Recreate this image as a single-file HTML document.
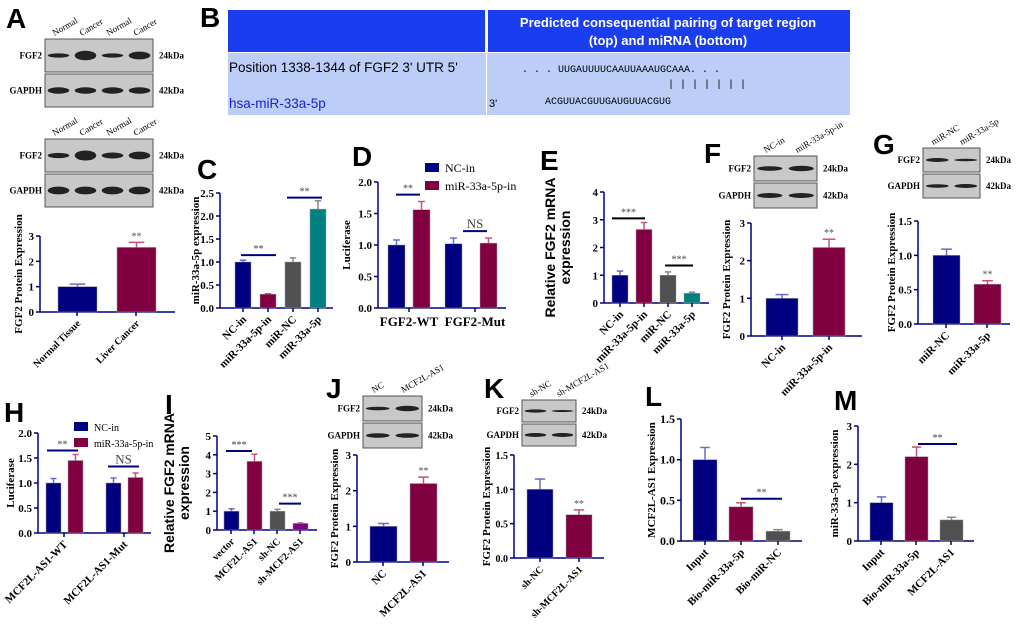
<!DOCTYPE html>
<html><head><meta charset="utf-8"><style>
body{margin:0;background:#fff}
svg{display:block;font-family:"Liberation Serif",serif}
.b{font-family:"Liberation Sans",sans-serif;font-weight:bold}
</style></head><body>
<svg id="fig" width="1020" height="624" viewBox="0 0 1020 624">
<g class="b" font-size="28">
<text x="6" y="28">A</text><text x="200" y="27">B</text><text x="197" y="179">C</text><text x="352" y="166">D</text>
<text x="540" y="170">E</text><text x="704" y="163">F</text><text x="873" y="154">G</text><text x="4" y="422">H</text>
<text x="165" y="414">I</text><text x="326" y="398">J</text><text x="484" y="398">K</text><text x="645" y="406">L</text><text x="834" y="410">M</text>
</g>
<g>
<rect x="228" y="10" width="257" height="42" fill="#1a3df0"/><rect x="488" y="10" width="362" height="42" fill="#1a3df0"/>
<rect x="228" y="53" width="622" height="62" fill="#bccdf8"/><line x1="486.5" y1="10" x2="486.5" y2="115" stroke="#fff"/>
<text x="668" y="27" fill="#fff" font-size="13" text-anchor="middle" class="b">Predicted consequential pairing of target region</text>
<text x="668" y="45" fill="#fff" font-size="13" text-anchor="middle" class="b">(top) and miRNA (bottom)</text>
<text x="229" y="72" font-size="13.5" font-family="Liberation Sans">Position 1338-1344 of FGF2 3' UTR 5'</text>
<text x="229" y="108" font-size="13.5" fill="#2020d0" font-family="Liberation Sans">hsa-miR-33a-5p</text>
<text x="489" y="107" font-size="11" font-family="Liberation Sans">3'</text>
<text x="522" y="72" font-size="10" font-family="Liberation Mono">. . . UUGAUUUUCAAUUAAAUGCAAA. . .</text>
<text x="668" y="87" font-size="10" font-family="Liberation Mono">| | | | | | |</text>
<text x="545" y="104" font-size="10" font-family="Liberation Mono">ACGUUACGUUGAUGUUACGUG</text>
</g>
<g id="blots"></g>
<g id="charts"></g>
</svg>
<script>
const NAVY="#000080",MAR="#800040",GR="#505050",TE="#008080",PU="#800080";
const aCats=["Normal Tissue","Liver Cancer"], aVals=[1.0,2.55], aErrs=[0.1,0.2];
const cCats=["NC-in","miR-33a-5p-in","miR-NC","miR-33a-5p"], cVals=[1.0,0.3,1.0,2.15], cErrs=[0.04,0.01,0.09,0.18];
const dCats=["FGF2-WT","FGF2-Mut"], dNC=[1.0,1.02], dMiR=[1.56,1.03], dNCerr=[0.08,0.09], dMiRerr=[0.13,0.08];
const eCats=["NC-in","miR-33a-5p-in","miR-NC","miR-33a-5p"], eVals=[1.0,2.65,1.0,0.35], eErrs=[0.15,0.25,0.12,0.04];
const fCats=["NC-in","miR-33a-5p-in"], fVals=[1.0,2.35], fErrs=[0.1,0.22];
const gCats=["miR-NC","miR-33a-5p"], gVals=[1.0,0.58], gErrs=[0.09,0.05];
const hCats=["MCF2L-AS1-WT","MCF2L-AS1-Mut"], hNC=[1.0,1.0], hMiR=[1.45,1.11], hNCerr=[0.09,0.1], hMiRerr=[0.12,0.09];
const iCats=["vector","MCF2L-AS1","sh-NC","sh-MCF2-AS1"], iVals=[1.0,3.65,1.0,0.35], iErrs=[0.13,0.38,0.1,0.03];
const jCats=["NC","MCF2L-AS1"], jVals=[1.0,2.2], jErrs=[0.08,0.18];
const kCats=["sh-NC","sh-MCF2L-AS1"], kVals=[1.0,0.63], kErrs=[0.15,0.07];
const lCats=["Input","Bio-miR-33a-5p","Bio-miR-NC"], lVals=[1.0,0.42,0.12], lErrs=[0.15,0.05,0.02];
const mCats=["Input","Bio-miR-33a-5p","MCF2L-AS1"], mVals=[1.0,2.2,0.55], mErrs=[0.15,0.25,0.07];
const NS="http://www.w3.org/2000/svg";
function el(p,t,a){const e=document.createElementNS(NS,t);for(const k in a)e.setAttribute(k,a[k]);p.appendChild(e);return e;}
const root=document.getElementById('charts');
function chart(c){
 const g=el(root,'g',{});
 
 
 const y=v=>c.y0-(v/c.max)*(c.y0-c.yt);
 const bw=c.bw;
 c.ticks.forEach(t=>{
  el(g,'line',{x1:c.ax-4,x2:c.ax,y1:y(t),y2:y(t),stroke:NAVY,'stroke-width':1.5});
  const tx=el(g,'text',{x:c.ax-6,y:y(t)+4,'font-size':c.fs||11,'font-weight':'bold','text-anchor':'end'});tx.textContent=c.tf?c.tf(t):t;
 });
 el(g,'line',{x1:c.ax,x2:c.ax,y1:c.yt,y2:c.y0,stroke:NAVY,'stroke-width':1.5});
 el(g,'line',{x1:c.ax,x2:c.xe,y1:c.y0,y2:c.y0,stroke:NAVY,'stroke-width':1.5});
 c.vals.forEach((v,i)=>{
  const x=c.xs[i];
  const r=el(g,'rect',{x:x,y:y(v),width:bw,height:c.y0-y(v),fill:c.cols[i],stroke:'#99a',"stroke-width":0.5});
  
  
  const ye=y(v+c.errs[i]), ec=c.cols[i]==NAVY?'#6a6ac8':c.cols[i]==MAR?'#c85080':'#888';
  el(g,'line',{x1:x+bw/2,x2:x+bw/2,y1:y(v),y2:ye,stroke:ec,'stroke-width':1.5});
  el(g,'line',{x1:x+bw/2-bw/5,x2:x+bw/2+bw/5,y1:ye,y2:ye,stroke:ec,'stroke-width':1.5});
 });
 c.labs.forEach((l,i)=>{
  const x=c.lx[i];
  el(g,'line',{x1:x,x2:x,y1:c.y0,y2:c.y0+4,stroke:NAVY,'stroke-width':1.5});
  const t=el(g,'text',{x:x+4,y:c.y0+12,'font-size':c.lfs||11,'font-weight':'bold','text-anchor':'end',transform:`rotate(${c.rot===0?0:-45} ${x+4} ${c.y0+12})`});
  if(c.rot===0){t.setAttribute('text-anchor','middle');t.setAttribute('x',x);t.setAttribute('y',c.y0+18);t.setAttribute('font-size',13);}
  t.textContent=l;
 });
 const yt=el(g,'text',{x:0,y:0,'font-size':c.yfs||11,'font-weight':'bold','text-anchor':'middle',transform:`translate(${c.ytx},${(c.y0+c.yt)/2}) rotate(-90)`});
 if(c.ysans){yt.setAttribute('font-family','Liberation Sans');}
 c.ytitle.forEach((s,k)=>{const ts=el(yt,'tspan',{x:0,dy:k?15:0});ts.textContent=s;});
 (c.sig||[]).forEach(s=>{
  el(g,'line',{x1:s[0],x2:s[1],y1:y(s[2]),y2:y(s[2]),stroke:s[4]?'#000':NAVY,'stroke-width':2});
  const t=el(g,'text',{x:(s[0]+s[1])/2,y:y(s[2])-3,'font-size':s[3]=='NS'?13:10,'text-anchor':'middle',fill:'#444'});t.textContent=s[3];
 });
 (c.stars||[]).forEach(s=>{const t=el(g,'text',{x:c.xs[s]+bw/2,y:y(c.vals[s]+c.errs[s])-3,'font-size':10,'text-anchor':'middle',fill:'#555'});t.textContent='**';});
 return g;
}
chart({name:'chart-a',vals:aVals,errs:aErrs,cols:[NAVY,MAR],xs:[58,117],bw:39,ax:40,xe:175,y0:312,yt:236,max:3,ticks:[0,1,2,3],labs:aCats,lx:[77,136],ytitle:['FGF2 Protein Expression'],ytx:22,stars:[1],lfs:10});
chart({name:'chart-c',vals:cVals,errs:cErrs,cols:[NAVY,MAR,GR,TE],xs:[235,260,285,310],bw:16,ax:220,xe:333,y0:308,yt:193,max:2.5,ticks:[0,0.5,1,1.5,2,2.5],tf:t=>t.toFixed(1),labs:cCats,lx:[243,268,293,318],ytitle:['miR-33a-5p expression'],ytx:199,sig:[[241,276,1.15,'**'],[287,322,2.4,'**']]});
chart({name:'chart-d',vals:[dNC[0],dMiR[0],dNC[1],dMiR[1]],errs:[dNCerr[0],dMiRerr[0],dNCerr[1],dMiRerr[1]],cols:[NAVY,MAR,NAVY,MAR],xs:[388,413,445,480],bw:17,ax:378,xe:506,y0:308,yt:182,max:2,ticks:[0,0.5,1,1.5,2],tf:t=>t.toFixed(1),labs:dCats,lx:[409,475],rot:0,ytitle:['Luciferase'],ytx:350,sig:[[396,420,1.8,'**'],[463,487,1.22,'NS']]});
chart({name:'chart-e',vals:eVals,errs:eErrs,cols:[NAVY,MAR,GR,TE],xs:[612,636,660,684],bw:16,ax:604,xe:709,y0:303,yt:192,max:4,ticks:[0,1,2,3,4],labs:eCats,lx:[620,644,668,692],ytitle:['Relative FGF2 mRNA','expression'],ytx:555,ysans:true,yfs:14,fs:11,sig:[[612,645,3.05,'***',1],[665,693,1.35,'***',1]]});
chart({name:'chart-f',vals:fVals,errs:fErrs,cols:[NAVY,MAR],xs:[766,813],bw:32,ax:751,xe:862,y0:336,yt:223,max:3,ticks:[0,1,2,3],labs:fCats,lx:[782,829],ytitle:['FGF2 Protein Expression'],ytx:730,stars:[1]});
chart({name:'chart-g',vals:gVals,errs:gErrs,cols:[NAVY,MAR],xs:[933,974],bw:27,ax:918,xe:1010,y0:324,yt:221,max:1.5,ticks:[0,0.5,1,1.5],tf:t=>t.toFixed(1),labs:gCats,lx:[946,987],ytitle:['FGF2 Protein Expression'],ytx:895,stars:[1]});
chart({name:'chart-h',vals:[hNC[0],hMiR[0],hNC[1],hMiR[1]],errs:[hNCerr[0],hMiRerr[0],hNCerr[1],hMiRerr[1]],cols:[NAVY,MAR,NAVY,MAR],xs:[46,68,106,128],bw:15,ax:38,xe:151,y0:533,yt:433,max:2,ticks:[0,0.5,1,1.5,2],tf:t=>t.toFixed(1),labs:hCats,lx:[64,124],ytitle:['Luciferase'],ytx:14,sig:[[47,78,1.65,'**'],[108,139,1.33,'NS']]});
chart({name:'chart-i',vals:iVals,errs:iErrs,cols:[NAVY,MAR,GR,PU],xs:[224,247,270,293],bw:15,ax:217,xe:317,y0:530,yt:436,max:5,ticks:[0,1,2,3,4,5],labs:iCats,lx:[231,254,277,300],ytitle:['Relative FGF2 mRNA','expression'],ytx:174,ysans:true,yfs:14,sig:[[226,252,4.2,'***'],[279,301,1.4,'***']],lfs:10});
chart({name:'chart-j',vals:jVals,errs:jErrs,cols:[NAVY,MAR],xs:[370,410],bw:27,ax:357,xe:449,y0:562,yt:455,max:3,ticks:[0,1,2,3],labs:jCats,lx:[383,423],ytitle:['FGF2 Protein Expression'],ytx:338,stars:[1]});
chart({name:'chart-k',vals:kVals,errs:kErrs,cols:[NAVY,MAR],xs:[527,566],bw:26,ax:514,xe:604,y0:558,yt:455,max:1.5,ticks:[0,0.5,1,1.5],tf:t=>t.toFixed(1),labs:kCats,lx:[540,579],ytitle:['FGF2 Protein Expression'],ytx:490,stars:[1],fs:10,lfs:10});
chart({name:'chart-l',vals:lVals,errs:lErrs,cols:[NAVY,MAR,GR],xs:[693,729,766],bw:24,ax:681,xe:802,y0:541,yt:419,max:1.5,ticks:[0,0.5,1,1.5],tf:t=>t.toFixed(1),labs:lCats,lx:[705,741,778],ytitle:['MCF2L-AS1 Expression'],ytx:655,fs:12,sig:[[741,782,0.52,'**']]});
chart({name:'chart-m',vals:mVals,errs:mErrs,cols:[NAVY,MAR,GR],xs:[870,905,940],bw:23,ax:858,xe:974,y0:541,yt:426,max:3,ticks:[0,1,2,3],labs:mCats,lx:[881,916,951],ytitle:['miR-33a-5p expression'],ytx:838,sig:[[918,957,2.53,'**']]});
function legend(x,y,fs,name){const g=el(root,'g',{});
 ['NC-in','miR-33a-5p-in'].forEach((l,k)=>{el(g,'rect',{x:x,y:y+k*(fs+6),width:14,height:9,fill:k?MAR:NAVY});const t=el(g,'text',{x:x+20,y:y+k*(fs+6)+9,'font-size':fs});t.textContent=l;});}
legend(425,163,12,'legend-d');legend(74,422,10,'legend-h');
const B=document.getElementById('blots');
function blot(x,w,y,h,n,rows,name,heads){
 const g=el(B,'g',{});
 rows.forEach((r,k)=>{const yy=y+k*(h+2);el(g,'rect',{x:x,y:yy,width:w,height:h,fill:'#c8c8c8',stroke:'#555'});
  for(let i=0;i<n;i++){const cx=x+w*(i+0.5)/n;el(g,'ellipse',{cx:cx,cy:yy+h/2,rx:w/n*0.4,ry:h*0.09*(r[i]||1),fill:'#222'});}
  const t=el(g,'text',{x:x-3,y:yy+h/2+3,'font-size':9,'font-weight':'bold','text-anchor':'end'});t.textContent=k?'GAPDH':'FGF2';
  const t2=el(g,'text',{x:x+w+6,y:yy+h/2+3,'font-size':9,'font-weight':'bold'});t2.textContent=k?'42kDa':'24kDa';});
 heads.forEach((s,i)=>{const cx=x+w*(i+0.5)/n-4;const t=el(g,'text',{x:cx,y:y-3,'font-size':9,transform:`rotate(-30 ${cx} ${y-3})`});t.textContent=s;});
}
blot(45,108,39,33,4,[[0.7,1.6,0.7,1.3],[1.1,1.1,1.1,1.1]],'blot-a1',['Normal','Cancer','Normal','Cancer']);
blot(45,108,139,33,4,[[0.9,1.7,1,1.3],[1.3,1.3,1.3,1.3]],'blot-a2',['Normal','Cancer','Normal','Cancer']);
blot(754,63,156,25,2,[[1,1.2],[1.1,1.1]],'blot-f',['NC-in','miR-33a-5p-in']);
blot(923,57,148,24,2,[[0.9,0.6],[0.8,0.9]],'blot-g',['miR-NC','miR-33a-5p']);
blot(363,59,396,25,2,[[0.8,1.2],[1,1]],'blot-j',['NC','MCF2L-AS1']);
blot(522,54,400,22,2,[[0.8,0.5],[1,1]],'blot-k',['sh-NC','sh-MCF2L-AS1']);
</script>
</body></html>
